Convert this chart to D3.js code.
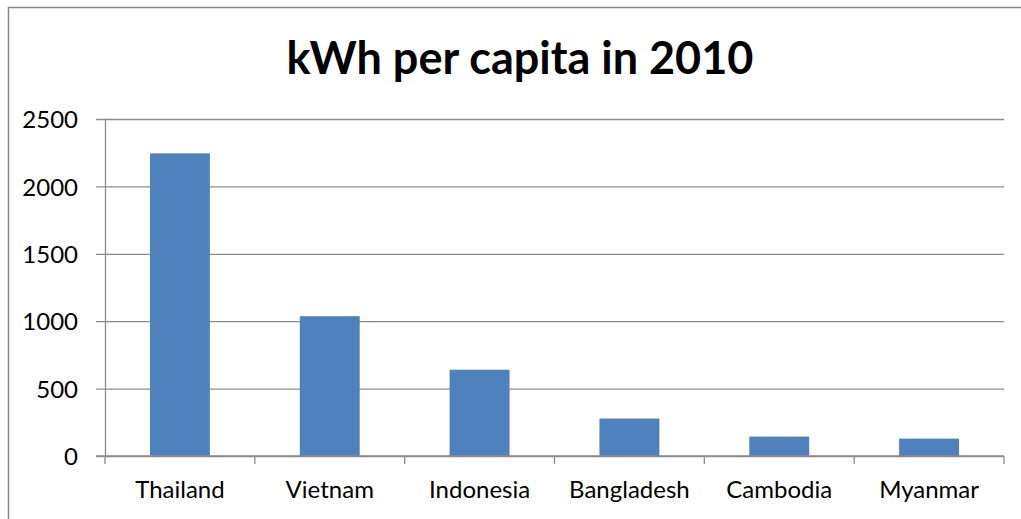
<!DOCTYPE html>
<html>
<head>
<meta charset="utf-8">
<script src="https://cdn.jsdelivr.net/npm/d3@7"></script>
<style>
  body { margin: 0; background: #fff; }
  text { font-family: Lato, "Open Sans", sans-serif; fill: #000; }
</style>
</head>
<body>
<div id="chart"></div>
<script>
var countries = ["Thailand", "Vietnam", "Indonesia", "Bangladesh", "Cambodia", "Myanmar"]
var kwhPerCapita = [2245, 1037, 640, 278, 144, 129]
var yTicks = [0, 500, 1000, 1500, 2000, 2500]
var chartTitle = "kWh per capita in 2010"

var width = 1021, height = 519
var margin = { top: 119, right: 17, bottom: 63, left: 105 }

var svg = d3.select("#chart")
  .append("svg")
  .attr("width", width)
  .attr("height", height)

// outer chart border (only top and left are visible in the crop)
svg.append("path")
  .attr("d", "M8.5," + height + "V7.5H" + width)
  .attr("fill", "none")
  .attr("stroke", "#888")
  .attr("stroke-width", 1.5)

var x = d3.scaleBand()
  .domain(countries)
  .range([margin.left, width - margin.right])
  .paddingInner(0.6)
  .paddingOuter(0.3)

var y = d3.scaleLinear()
  .domain([0, 2500])
  .range([height - margin.bottom, margin.top])

// gridlines
var grid = svg.append("g")
  .attr("transform", "translate(" + (width - margin.right) + ",0)")
  .call(d3.axisLeft(y).tickValues(yTicks).tickSize(width - margin.right - margin.left + 9).tickFormat(""))
grid.select(".domain").remove()
grid.selectAll("line").attr("stroke", "#8c8c8c").attr("stroke-width", 1.3)

// left axis
var yAxis = svg.append("g")
  .attr("transform", "translate(" + margin.left + ",0)")
  .call(d3.axisLeft(y).tickValues(yTicks).tickSize(0).tickPadding(27).tickFormat(d3.format("d")))
yAxis.select(".domain").attr("stroke", "#8c8c8c").attr("stroke-width", 1.3)
yAxis.selectAll("text").attr("font-size", 24).attr("dy", "0.36em")

// bars
svg.selectAll("rect.bar")
  .data(kwhPerCapita)
  .enter()
  .append("rect")
  .attr("class", "bar")
  .attr("x", function (d, i) { return x(countries[i]) })
  .attr("y", function (d) { return y(d) })
  .attr("width", x.bandwidth())
  .attr("height", function (d) { return y(0) - y(d) })
  .attr("fill", "#4f81bd")

// bottom axis with ticks between categories
var xAxis = svg.append("g")
  .attr("transform", "translate(0," + y(0) + ")")
xAxis.append("line")
  .attr("x1", margin.left - 9).attr("x2", width - margin.right)
  .attr("stroke", "#8c8c8c").attr("stroke-width", 1.3)
var edges = countries.map(function (c) { return x(c) - x.step() * x.paddingInner() / 2 }).concat([width - margin.right])
xAxis.selectAll("line.tick")
  .data(edges)
  .enter()
  .append("line")
  .attr("class", "tick")
  .attr("x1", function (d) { return d }).attr("x2", function (d) { return d })
  .attr("y1", 0).attr("y2", 8)
  .attr("stroke", "#8c8c8c").attr("stroke-width", 1.3)
xAxis.selectAll("text")
  .data(countries)
  .enter()
  .append("text")
  .attr("x", function (d) { return x(d) + x.bandwidth() / 2 })
  .attr("y", 42)
  .attr("text-anchor", "middle")
  .attr("font-size", 24)
  .text(function (d) { return d })

svg.append("text")
  .attr("x", 520)
  .attr("y", 74)
  .attr("text-anchor", "middle")
  .attr("font-size", 45)
  .attr("font-weight", "bold")
  .text(chartTitle)
</script>
</body>
</html>
